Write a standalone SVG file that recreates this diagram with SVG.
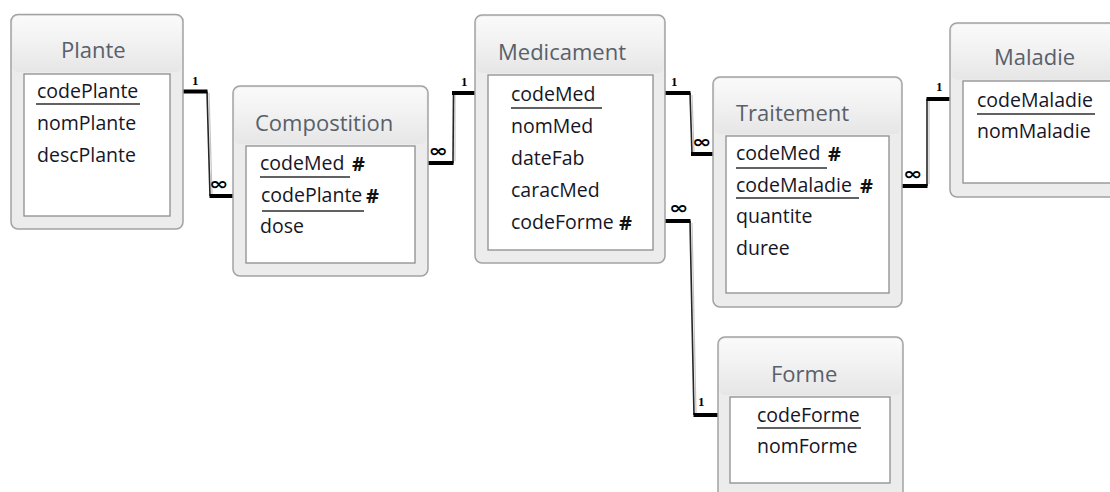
<svg xmlns="http://www.w3.org/2000/svg" width="1110" height="492" viewBox="0 0 1110 492">
  <defs>
    <linearGradient id="hdr" x1="0" y1="0" x2="0" y2="1">
      <stop offset="0" stop-color="#fafafa"/>
      <stop offset="0.45" stop-color="#f2f2f2"/>
      <stop offset="1" stop-color="#e6e6e6"/>
    </linearGradient>
    <style>
      .frame { fill: #ececec; stroke: #a2a2a2; stroke-width: 1.5; }
      .head { fill: url(#hdr); }
      .body { fill: #ffffff; stroke: #8e8e8e; stroke-width: 1.3; }
      .title { font-family: "Open Sans", "Noto Sans", sans-serif; font-size: 22px; fill: #58606a; }
      .fld { font-family: "Open Sans", "Noto Sans", sans-serif; font-size: 19.5px; fill: #161626; }
      .fk { font-family: "Open Sans", "Noto Sans", sans-serif; font-size: 20px; font-weight: 700; fill: #101010; }
      .key { stroke: #2e2e2e; stroke-width: 1.6; }
      .thick { stroke: #000; stroke-width: 4; fill: none; }
      .thin { stroke: #262626; stroke-width: 1.6; fill: none; }
      .shade { stroke: #c4c4c4; stroke-width: 1.2; fill: none; }
      .one { font-family: "Liberation Serif", serif; font-size: 13px; font-weight: 700; fill: #000; }
      .many { font-family: "DejaVu Sans", sans-serif; font-size: 18px; font-weight: 700; fill: #000; }
    </style>
  </defs>
  <rect width="1110" height="492" fill="#ffffff"/>

  <!-- relationship lines -->
  <g id="connectors">
    <!-- Plante 1 - oo Compostition -->
    <path class="shade" d="M209 93 L212 194"/>
    <path class="thin" d="M207 91.5 L210 196"/>
    <path class="thick" d="M183 91.5 H207.5"/>
    <path class="thick" d="M209.5 196 H233"/>
    <text class="one" x="192" y="85">1</text>
    <text class="many" transform="translate(209 189.5) scale(1.3 1)">∞</text>

    <!-- Compostition oo - 1 Medicament -->
    <path class="shade" d="M455 95 L455 161"/>
    <path class="thin" d="M453 163 L453.5 93"/>
    <path class="thick" d="M428 163 H453.5"/>
    <path class="thick" d="M452 93 H475"/>
    <text class="one" x="461" y="86">1</text>
    <text class="many" transform="translate(428.5 156.5) scale(1.3 1)">∞</text>

    <!-- Medicament 1 - oo Traitement -->
    <path class="shade" d="M692 95 L694 152"/>
    <path class="thin" d="M690 93 L692 154"/>
    <path class="thick" d="M665 93 H690.5"/>
    <path class="thick" d="M691 154 H713"/>
    <text class="one" x="671" y="86">1</text>
    <text class="many" transform="translate(692 147.5) scale(1.3 1)">∞</text>

    <!-- Medicament oo - 1 Forme -->
    <path class="shade" d="M692 223 L696 413"/>
    <path class="thin" d="M690 221 L694 415"/>
    <path class="thick" d="M665 221 H690.5"/>
    <path class="thick" d="M693.5 415 H718"/>
    <text class="one" x="698" y="406">1</text>
    <text class="many" transform="translate(669 213.5) scale(1.3 1)">∞</text>

    <!-- Traitement oo - 1 Maladie -->
    <path class="shade" d="M929 101 L929 184"/>
    <path class="thin" d="M927 186 L927 99"/>
    <path class="thick" d="M902 186 H927.5"/>
    <path class="thick" d="M926.5 99 H950"/>
    <text class="one" x="936" y="91">1</text>
    <text class="many" transform="translate(903 179.5) scale(1.3 1)">∞</text>
  </g>

  <!-- Plante -->
  <g id="plante">
    <rect class="frame" x="11" y="14.5" width="172" height="214.5" rx="7"/>
    <rect class="head" x="12.5" y="16" width="169" height="56" rx="6"/>
    <rect class="body" x="24" y="74" width="146" height="142"/>
    <text class="title" x="61" y="58">Plante</text>
    <text class="fld" x="37" y="98">codePlante</text>
    <line class="key" x1="36" y1="104" x2="140" y2="104"/>
    <text class="fld" x="37" y="130">nomPlante</text>
    <text class="fld" x="37" y="162">descPlante</text>
  </g>

  <!-- Compostition -->
  <g id="compostition">
    <rect class="frame" x="233" y="86" width="195" height="190" rx="7"/>
    <rect class="head" x="234.5" y="87.5" width="192" height="56.5" rx="6"/>
    <rect class="body" x="246" y="146" width="169" height="117"/>
    <text class="title" x="255" y="131">Compostition</text>
    <text class="fld" x="260" y="170">codeMed</text>
    <text class="fk" x="352" y="171">#</text>
    <line class="key" x1="260" y1="177" x2="350" y2="177"/>
    <text class="fld" x="261" y="202">codePlante</text>
    <text class="fk" x="366" y="203">#</text>
    <line class="key" x1="262" y1="211" x2="364" y2="211"/>
    <text class="fld" x="260" y="233">dose</text>
  </g>

  <!-- Medicament -->
  <g id="medicament">
    <rect class="frame" x="475" y="15" width="190" height="248" rx="7"/>
    <rect class="head" x="476.5" y="16.5" width="187" height="56.5" rx="6"/>
    <rect class="body" x="488" y="75" width="165" height="175"/>
    <text class="title" x="498" y="60">Medicament</text>
    <text class="fld" x="511" y="101">codeMed</text>
    <line class="key" x1="511" y1="108" x2="602" y2="108"/>
    <text class="fld" x="511" y="133">nomMed</text>
    <text class="fld" x="511" y="165">dateFab</text>
    <text class="fld" x="511" y="197">caracMed</text>
    <text class="fld" x="511" y="229">codeForme</text>
    <text class="fk" x="619" y="230">#</text>
  </g>

  <!-- Traitement -->
  <g id="traitement">
    <rect class="frame" x="713" y="77" width="189" height="230" rx="7"/>
    <rect class="head" x="714.5" y="78.5" width="186" height="55.5" rx="6"/>
    <rect class="body" x="726" y="136" width="163" height="157"/>
    <text class="title" x="736" y="121">Traitement</text>
    <text class="fld" x="736" y="160">codeMed</text>
    <text class="fk" x="828" y="161">#</text>
    <line class="key" x1="736" y1="168" x2="827" y2="168"/>
    <text class="fld" x="736" y="192">codeMaladie</text>
    <text class="fk" x="860" y="193">#</text>
    <line class="key" x1="736" y1="198" x2="859" y2="198"/>
    <text class="fld" x="736" y="223">quantite</text>
    <text class="fld" x="736" y="255">duree</text>
  </g>

  <!-- Maladie -->
  <g id="maladie">
    <rect class="frame" x="950" y="23" width="180" height="174" rx="7"/>
    <rect class="head" x="951.5" y="24.5" width="177" height="55" rx="6"/>
    <rect class="body" x="963" y="81" width="160" height="102"/>
    <text class="title" x="994" y="65">Maladie</text>
    <text class="fld" x="977" y="107">codeMaladie</text>
    <line class="key" x1="977" y1="114" x2="1095" y2="114"/>
    <text class="fld" x="977" y="138">nomMaladie</text>
  </g>

  <!-- Forme -->
  <g id="forme">
    <rect class="frame" x="718" y="337" width="185" height="175" rx="7"/>
    <rect class="head" x="719.5" y="338.5" width="182" height="56.5" rx="6"/>
    <rect class="body" x="730" y="397" width="160" height="86"/>
    <text class="title" x="771" y="382">Forme</text>
    <text class="fld" x="757" y="422">codeForme</text>
    <line class="key" x1="757" y1="428" x2="861" y2="428"/>
    <text class="fld" x="757" y="453">nomForme</text>
  </g>
</svg>
